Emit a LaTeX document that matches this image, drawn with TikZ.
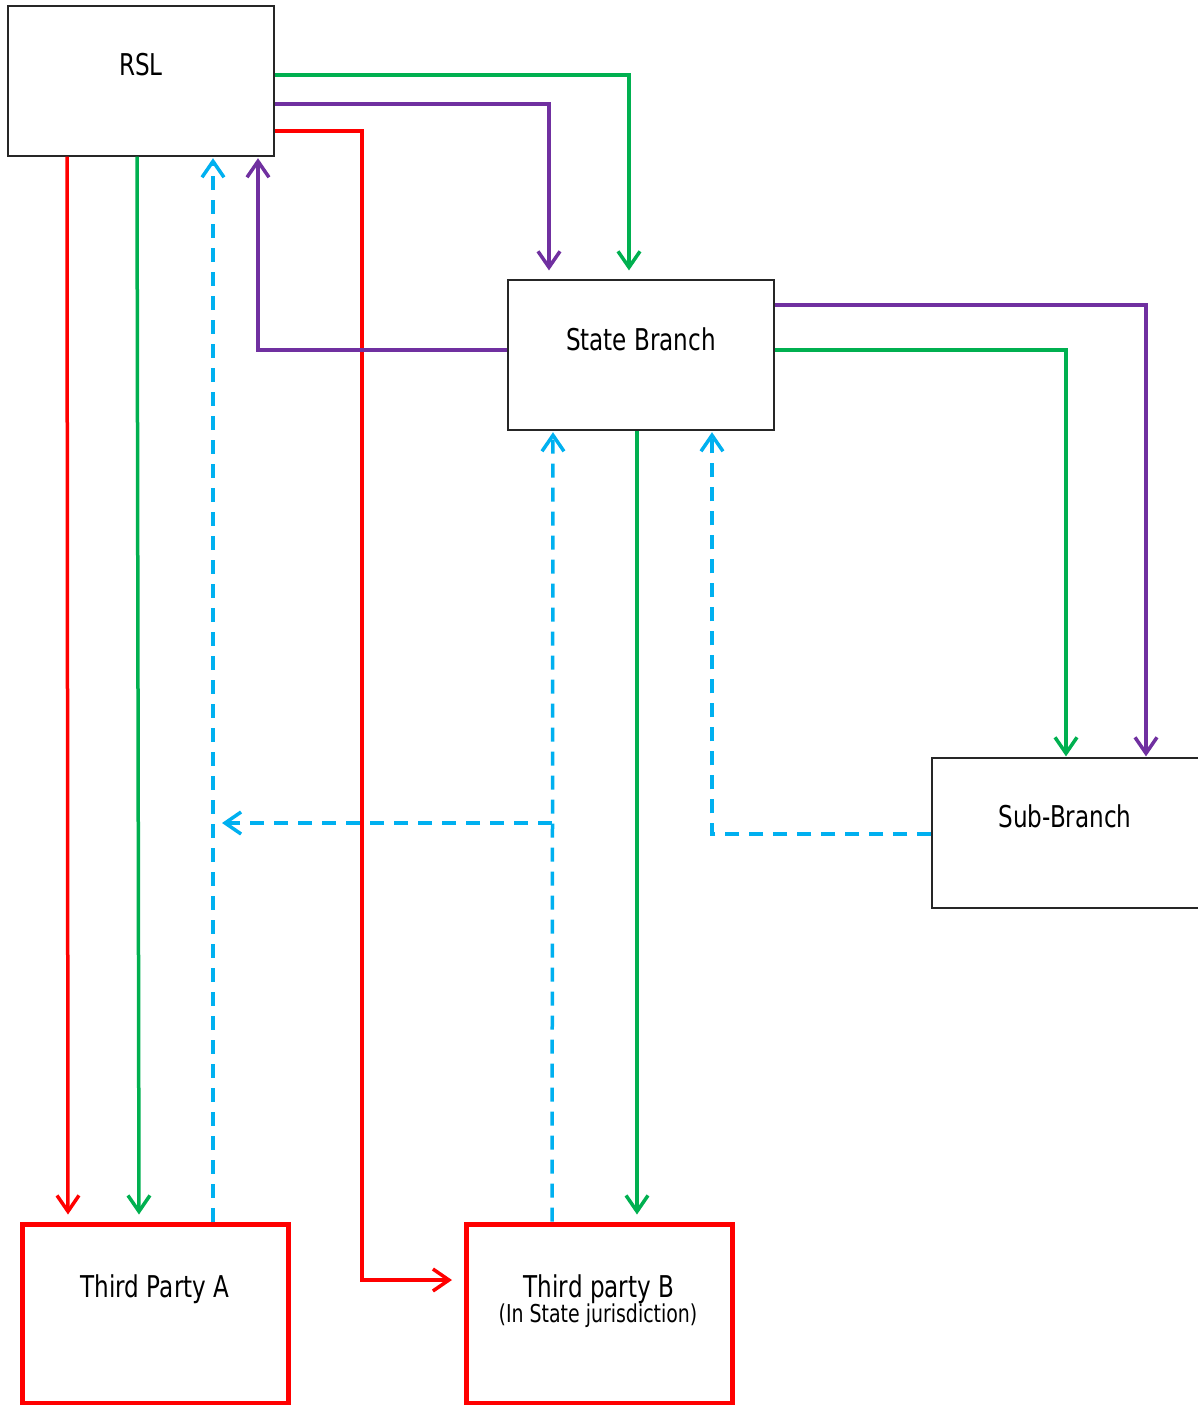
\documentclass[tikz,border=0pt]{standalone}
\usepackage{fontspec}
\setmainfont{DejaVu Sans}[FakeStretch=0.77]
\usetikzlibrary{arrows.meta}
\definecolor{cgreen}{RGB}{0,176,80}
\definecolor{cpurple}{RGB}{112,48,160}
\definecolor{cred}{RGB}{255,0,0}
\definecolor{cblue}{RGB}{0,176,240}
\begin{document}
\begin{tikzpicture}[x=0.5pt,y=-0.5pt,
  plainbox/.style={draw=black!85,line width=0.6pt,rectangle,minimum width=133pt,minimum height=75pt,inner sep=0pt},
  redbox/.style={draw=cred,line width=2.5pt,rectangle,minimum width=133pt,minimum height=89.5pt,inner sep=0pt},
  lbl/.style={anchor=base,inner sep=0pt,font=\fontsize{15pt}{18pt}\selectfont},
  sublbl/.style={anchor=base,inner sep=0pt,font=\fontsize{12.3pt}{14pt}\selectfont},
  conn/.style={line width=1.75pt,-{Straight Barb[length=8pt,width=11pt,line width=1.75pt]}},
  gline/.style={conn,draw=cgreen},
  pline/.style={conn,draw=cpurple},
  rline/.style={conn,draw=cred},
  bline/.style={conn,draw=cblue,dash pattern=on 7pt off 5pt},
]
\useasboundingbox (0,0) rectangle (1198,1405);
% boxes
\node[plainbox] (rsl) at (141,81) {};
\node[plainbox] (sb) at (641,355) {};
\node[plainbox,minimum width=134pt] (sub) at (1066,833) {};
\node[redbox] (tpa) at (155,1313.5) {};
\node[redbox] (tpb) at (599.5,1313.5) {};
% labels
\node[lbl] (rsltxt) at (141,75) {RSL};
\node[lbl] (sbtxt) at (641,350) {State Branch};
\node[lbl] (subtxt) at (1065,827) {Sub-Branch};
\node[lbl] (tpatxt) at (155,1297) {Third Party A};
\node[lbl] (tpbtxt) at (599,1297) {Third party B};
\node[sublbl] (tpbsub) at (598,1322) {(In State jurisdiction)};
% junction
\coordinate (j) at (552,823);
\coordinate (jt) at (222,823);
% connectors
\draw[gline,shorten >=4.5pt] (rsl.east |- 0,75) -| (sb.north -| 629,0);
\draw[pline,shorten >=4.5pt] (rsl.east |- 0,104) -| (sb.north -| 549,0);
\draw[rline,shorten >=6pt] (rsl.east |- 0,131) -| (362,1280) -- (tpb.west |- 0,1280);
\draw[rline,shorten >=3.5pt] (rsl.south -| 67,0) -- (tpa.north -| 68,0);
\draw[gline,shorten >=3.5pt] (rsl.south -| 137,0) -- (tpa.north -| 139,0);
\draw[bline,shorten >=0.8pt] (tpa.north -| 213,0) -- (rsl.south -| 213,0);
\draw[pline,shorten >=0.8pt] (sb.west |- 0,350) -| (rsl.south -| 258,0);
\draw[gline,shorten >=0.5pt] (sb.east |- 0,350) -| (sub.north -| 1066,0);
\draw[pline,shorten >=0.5pt] (sb.east |- 0,305) -| (sub.north -| 1146,0);
\draw[bline,shorten >=0.8pt] (sub.west |- 0,834) -| (sb.south -| 712,0);
\draw[bline,shorten >=0.8pt] (tpb.north -| 552,0) -- (sb.south -| 553,0);
\draw[bline] (j) -- (jt);
\draw[gline,shorten >=3.5pt] (sb.south -| 637,0) -- (tpb.north -| 637,0);
\end{tikzpicture}
\end{document}
